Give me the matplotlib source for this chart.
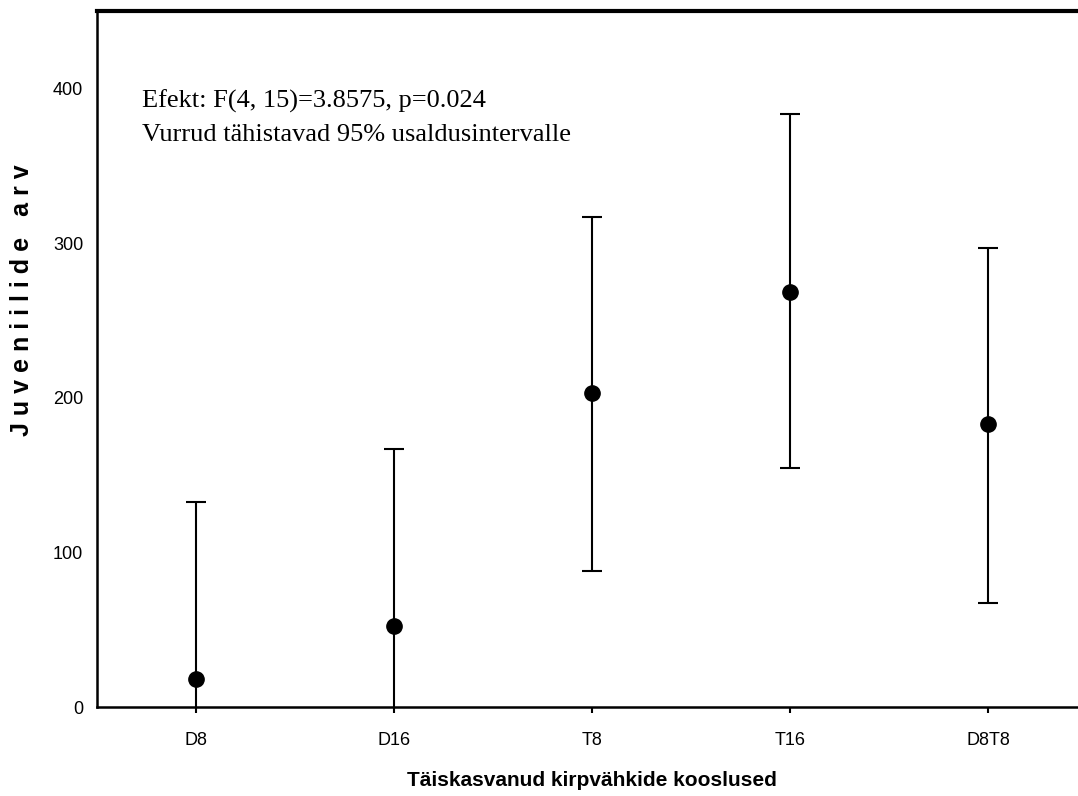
import matplotlib
matplotlib.use("Agg")
import numpy as np
import matplotlib.pyplot as plt

groups = ["D8", "D16", "T8", "T16", "D8T8"]
means = [18, 52.5, 202.7, 268.2, 183]
ci_low = [-96, -61, 88.2, 154.5, 67]
ci_high = [132.4, 166.6, 316.8, 383.1, 297]
yticks = [0, 100, 200, 300, 400]

sans = ["Liberation Sans", "DejaVu Sans"]
serif = ["Liberation Serif", "DejaVu Serif"]

fig = plt.figure(figsize=(10.78, 7.96), dpi=100)
ax = fig.add_axes([97 / 1078, 1 - 707 / 796, 990 / 1078, 696 / 796])

x = np.arange(len(groups))
means = np.array(means)
yerr = np.array([means - np.array(ci_low), np.array(ci_high) - means])
ax.errorbar(x, means, yerr=yerr, fmt="o", color="black", ecolor="black",
            markersize=11, elinewidth=1.5, capsize=7, capthick=1.5)

ax.set_xlim(-0.5, 4.5)
ax.set_ylim(0, 450)
ax.set_xticks(x)
ax.set_xticklabels(groups, family=sans, fontsize=13)
ax.set_yticks(yticks)
ax.set_yticklabels([str(v) for v in yticks], family=sans, fontsize=13)
ax.tick_params(axis="x", length=4, width=1.5, pad=14)
ax.tick_params(axis="y", length=0, pad=10)

for s in ["left", "bottom"]:
    ax.spines[s].set_linewidth(1.8)
ax.spines["top"].set_linewidth(3)
ax.spines["right"].set_visible(False)

ax.set_xlabel("Täiskasvanud kirpvähkide kooslused", family=sans,
              fontsize=15, fontweight="bold", labelpad=16)
ax.set_ylabel("J u v e n i i l i d e   a r v", family=sans,
              fontsize=18, fontweight="bold", va="center")
ax.yaxis.set_label_coords(-0.076, 0.585)

ax.text(-0.273, 387.7, "Efekt: F(4, 15)=3.8575, p=0.024", family=serif,
        fontsize=19, va="baseline")
ax.text(-0.273, 366, "Vurrud tähistavad 95% usaldusintervalle", family=serif,
        fontsize=19, va="baseline")

fig.savefig("out.png", dpi=100)
